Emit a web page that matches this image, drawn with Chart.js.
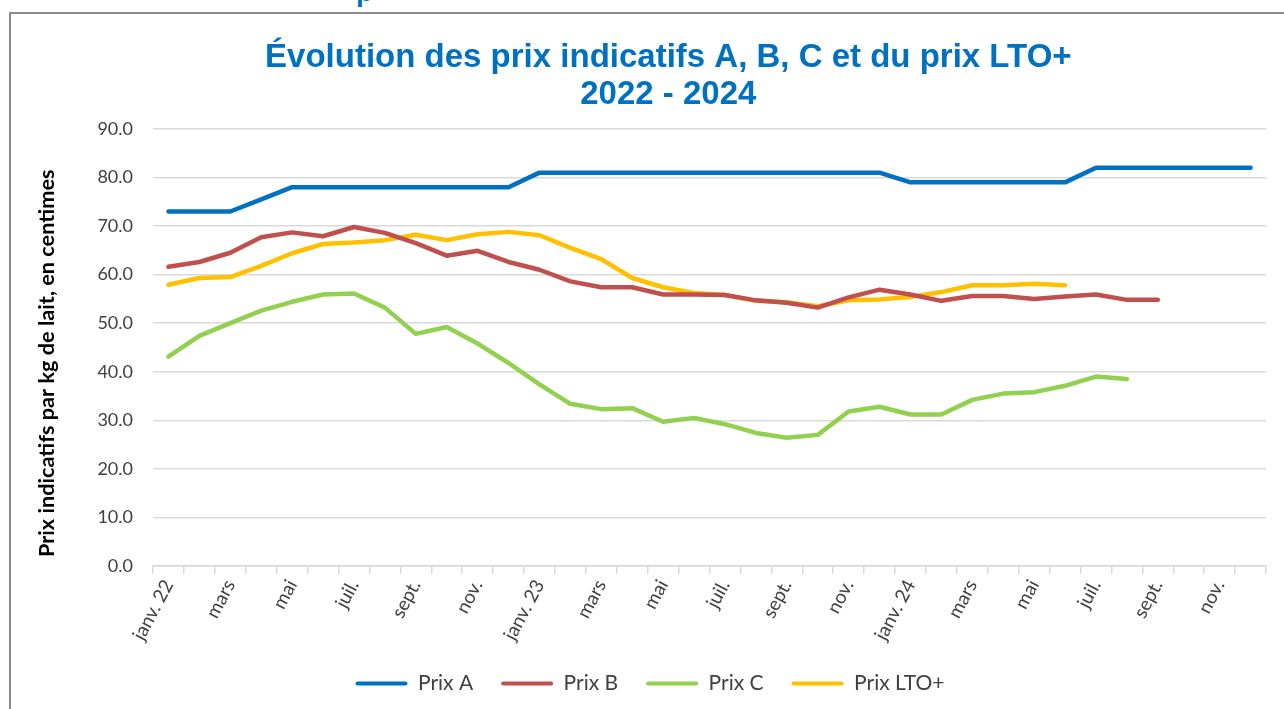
<!DOCTYPE html>
<html>
<head>
<meta charset="utf-8">
<script src="https://cdn.jsdelivr.net/npm/chart.js@4"></script>
<style>
  html, body { margin: 0; padding: 0; background: #fff; }
  #wrap { position: relative; width: 1284px; height: 709px; overflow: hidden; }
  #frame { position: absolute; left: 9px; top: 12px; width: 1300px; height: 720px;
           border-left: 2px solid #8c8c8c; border-top: 2px solid #8c8c8c; }
  #crop { position: absolute; left: 356px; top: -24px; font: bold 28px 'Liberation Sans', Arial, sans-serif; color: #0070C0; }
  canvas { position: absolute; left: 0; top: 0; }
</style>
</head>
<body>
<div id="wrap">
  <div id="crop">p</div>
  <div id="frame"></div>
  <canvas id="chart" width="1284" height="709"></canvas>
</div>
<script>
// Month categories, janv. 2022 -> déc. 2024
const months = [
  'janv. 22','févr.','mars','avr.','mai','juin','juil.','août','sept.','oct.','nov.','déc.',
  'janv. 23','févr.','mars','avr.','mai','juin','juil.','août','sept.','oct.','nov.','déc.',
  'janv. 24','févr.','mars','avr.','mai','juin','juil.','août','sept.','oct.','nov.','déc.'
];

// Prices, centimes per kg of milk
const prixA = [73, 73, 73, 75.5, 78, 78, 78, 78, 78, 78, 78, 78,
               81, 81, 81, 81, 81, 81, 81, 81, 81, 81, 81, 81,
               79, 79, 79, 79, 79, 79, 82, 82, 82, 82, 82, 82];
const prixB = [61.6, 62.6, 64.5, 67.7, 68.7, 67.9, 69.8, 68.6, 66.5, 63.9, 64.9, 62.6,
               61.0, 58.6, 57.4, 57.4, 55.9, 55.9, 55.8, 54.7, 54.2, 53.2, 55.3, 56.9,
               55.9, 54.6, 55.6, 55.6, 55.0, 55.5, 55.9, 54.8, 54.8];
const prixC = [43.1, 47.4, 50.0, 52.6, 54.4, 55.9, 56.1, 53.2, 47.8, 49.2, 45.8, 41.8,
               37.4, 33.4, 32.3, 32.5, 29.7, 30.5, 29.2, 27.4, 26.4, 27.0, 31.8, 32.8,
               31.2, 31.2, 34.2, 35.5, 35.8, 37.1, 39.0, 38.5];
const prixLTO = [57.9, 59.3, 59.5, 61.8, 64.4, 66.3, 66.6, 67.1, 68.2, 67.1, 68.3, 68.8,
                 68.1, 65.5, 63.2, 59.3, 57.4, 56.2, 55.8, 54.6, 54.3, 53.5, 54.7, 54.9,
                 55.4, 56.4, 57.8, 57.8, 58.1, 57.8];

const yTicks = [0, 10, 20, 30, 40, 50, 60, 70, 80, 90];

const series = [
  { label: 'Prix A', data: prixA, color: '#0070C0' },
  { label: 'Prix B', data: prixB, color: '#C0504D' },
  { label: 'Prix C', data: prixC, color: '#92D050' },
  { label: 'Prix LTO+', data: prixLTO, color: '#FFC000' },
];

const FONT = "Lato, 'Open Sans', sans-serif";
const GRID = '#d9d9d9';
const TEXT = '#404040';
const PAD = '    '; // leading spaces push the centred title a bit right

new Chart(document.getElementById('chart'), {
  type: 'line',
  data: {
    labels: months,
    datasets: series.map(s => ({
      label: s.label,
      data: s.data,
      borderColor: s.color,
      backgroundColor: s.color,
      borderWidth: 4.5,
      borderCapStyle: 'round',
      borderJoinStyle: 'round',
      pointRadius: 0,
      tension: 0,
      fill: false,
    }))
  },
  options: {
    responsive: false,
    animation: false,
    layout: { padding: { left: 34, right: 18, top: 0, bottom: 5 } },
    plugins: {
      title: {
        display: true,
        text: [PAD + 'Évolution des prix indicatifs A, B, C et du prix LTO+', PAD + '2022 - 2024'],
        color: '#0070C0',
        font: { family: "'Liberation Sans', Arial, sans-serif", size: 33, weight: 'bold', lineHeight: 1.12 },
        padding: { top: 39, bottom: 16 },
      },
      legend: {
        position: 'bottom',
        labels: {
          color: TEXT,
          font: { family: FONT, size: 21 },
          boxWidth: 52,
          boxHeight: 4,
          padding: 28,
          useBorderRadius: true,
          borderRadius: 2,
          generateLabels: chart => Chart.defaults.plugins.legend.labels.generateLabels(chart)
            .map(l => ({ ...l, lineWidth: 0 })),
        },
      },
      tooltip: { enabled: false },
    },
    scales: {
      x: {
        offset: true,
        grid: { display: true, drawOnChartArea: false, drawTicks: true, tickLength: 8, color: GRID, lineWidth: 1.5, offset: true },
        border: { display: true, color: GRID, width: 1.5 },
        ticks: {
          autoSkip: false,
          minRotation: 62,
          maxRotation: 62,
          color: TEXT,
          font: { family: FONT, size: 19 },
          padding: 2,
          callback: (v, i) => (i % 2 === 0 ? months[i] : ''),
        },
        afterFit: s => { s.height = 79; },
      },
      y: {
        min: 0,
        max: 90,
        afterBuildTicks: s => { s.ticks = yTicks.map(v => ({ value: v })); },
        grid: { color: GRID, lineWidth: 1.5, drawTicks: false },
        border: { display: false },
        ticks: {
          color: TEXT,
          font: { family: FONT, size: 18 },
          padding: 20,
          callback: v => v.toFixed(1),
        },
        title: {
          display: true,
          // trailing spaces nudge the rotated title down, like the original
          text: 'Prix indicatifs par kg de lait, en centimes      ',
          color: '#000',
          font: { family: FONT, size: 21.7, weight: 'bold' },
          padding: { top: 0, bottom: 0 },
        },
        afterFit: s => { s.width = 119; },
      },
    },
  },
});
</script>
</body>
</html>
